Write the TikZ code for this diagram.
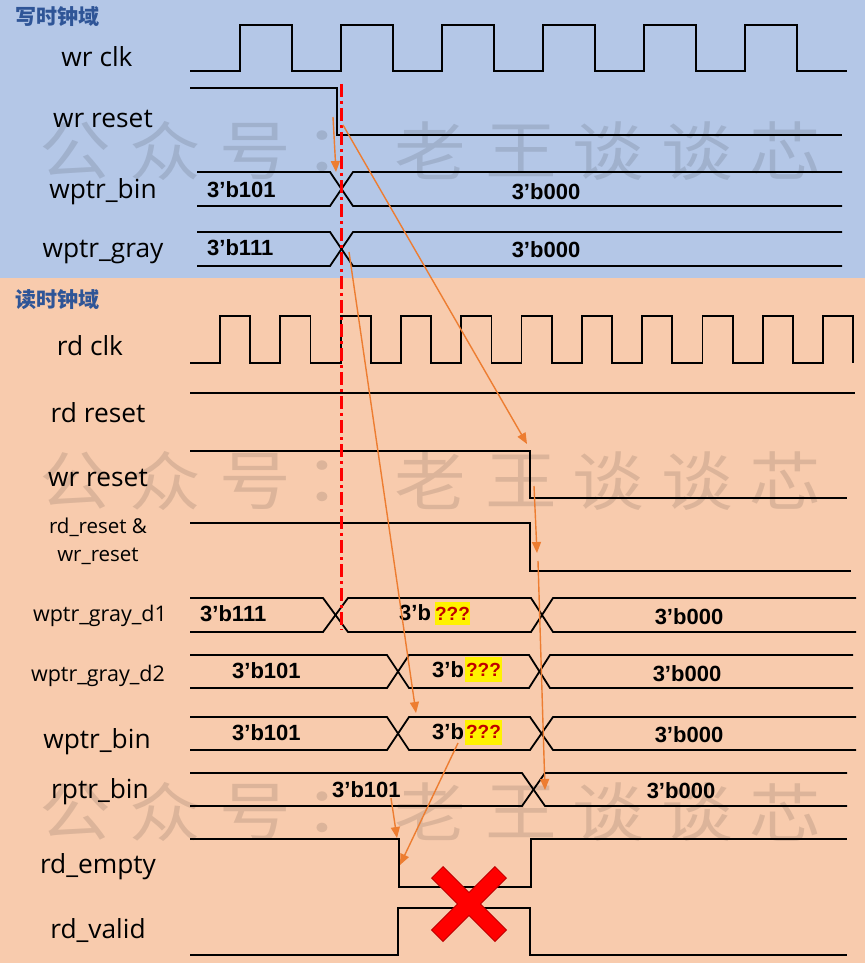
\documentclass[tikz,border=0pt]{standalone}
\usepackage{fontspec}
\setmainfont{Liberation Sans}
\newfontfamily\cjk{Noto Sans CJK SC}
\newfontfamily\labfont{Open Sans}
\usetikzlibrary{arrows.meta}
\definecolor{bgblue}{HTML}{B4C7E7}
\definecolor{bgpeach}{HTML}{F8CBAD}
\definecolor{arrorange}{HTML}{ED7D31}
\definecolor{titleblue}{HTML}{2F5597}
\definecolor{qred}{HTML}{C00000}
\definecolor{xred}{HTML}{FF0000}
\definecolor{xedge}{HTML}{C00000}
\begin{document}
\begin{tikzpicture}[x=1pt,y=-1pt,
  wave/.style={line width=1.8pt, black, line join=miter},
  siglabel/.style={font=\labfont\fontsize{26.3}{26}\selectfont, inner sep=0pt, anchor=base},
  smalllabel/.style={font=\labfont\fontsize{20.5}{20}\selectfont, inner sep=0pt, anchor=base},
  dlabel/.style={font=\labfont\fontsize{21.5}{20}\selectfont, inner sep=0pt, anchor=base},
  val/.style={font=\bfseries\fontsize{22}{22}\selectfont, inner sep=0pt, anchor=base},
  clkdomaintitle/.style={font=\cjk\bfseries\fontsize{21}{21}\selectfont, text=titleblue, inner sep=0pt},
  cause/.style={draw=arrorange, line width=1.4pt, -{Triangle[length=11pt,width=9pt]}},
  wmark/.style={font=\cjk\fontsize{64}{64}\selectfont, text=black, text opacity=0.11, inner sep=0pt, xscale=1.12, transform shape},
  qq/.style={fill=yellow, text=qred, font=\bfseries\fontsize{19}{19}\selectfont, inner sep=0pt, minimum width=37pt, minimum height=25pt},
  refline/.style={xred, line width=3pt, dash pattern=on 13pt off 4pt on 3pt off 4pt},
]
\useasboundingbox (0,0) rectangle (865,963);
% backgrounds
\fill[bgblue] (0,0) rectangle (865,278);
\fill[bgpeach] (0,278) rectangle (865,963);

% watermark rows
\foreach \r/\yy in {1/151, 2/481, 3/812} {
  \foreach \i/\xx/\ch in {1/75/公, 2/165/众, 3/255/号, 4/340/：, 5/430/老, 6/521/王, 7/608/谈, 8/697/谈, 9/785/芯} {
    \node[wmark] (wm\r-\i) at (\xx,\yy) {\ch};
  }
}

% clock-domain titles
\node[clkdomaintitle] (dwr) at (58,16.5) {写时钟域};
\node[clkdomaintitle] (drd) at (58,300) {读时钟域};

% signal labels
\node[siglabel] (l1) at (97,67) {wr clk};
\node[siglabel] (l2) at (103,128) {wr reset};
\node[siglabel] (l3) at (103,198) {wptr\_bin};
\node[siglabel] (l4) at (103,257) {wptr\_gray};
\node[siglabel] (l5) at (90,355) {rd clk};
\node[siglabel] (l6) at (98,422) {rd reset};
\node[siglabel] (l7) at (98,486) {wr reset};
\node[smalllabel] (l8a) at (98,533) {rd\_reset \&};
\node[smalllabel] (l8b) at (98,561) {wr\_reset};
\node[dlabel] (l9) at (100,621) {wptr\_gray\_d1};
\node[dlabel] (l10) at (98,681) {wptr\_gray\_d2};
\node[siglabel] (l11) at (97,748) {wptr\_bin};
\node[siglabel] (l12) at (100,798) {rptr\_bin};
\node[siglabel] (l13) at (98,873) {rd\_empty};
\node[siglabel] (l14) at (98,938) {rd\_valid};

% ---- write domain waveforms
% wr clk
\draw[wave] (190,71) foreach \k in {0,...,5} { -- ({240+101*\k},71) -- ({240+101*\k},25) -- ({292+101*\k},25) -- ({292+101*\k},71) } -- (847,71);
% wr reset
\draw[wave] (190,88) -- (337,88) -- (337,135) -- (842,135);
% wptr_bin (write)
\draw[wave] (197,172) -- (330,172) -- (353,206) -- (842,206);
\draw[wave] (197,206) -- (330,206) -- (353,172) -- (842,172);
% wptr_gray (write)
\draw[wave] (197,232) -- (330,232) -- (353,266) -- (842,266);
\draw[wave] (197,266) -- (330,266) -- (353,232) -- (842,232);

\node[val, anchor=base west] (v1) at (207,197) {3’b101};
\node[val] (v2) at (546,199) {3’b000};
\node[val, anchor=base west] (v3) at (207,255) {3’b111};
\node[val] (v4) at (546,257) {3’b000};

% ---- read domain waveforms
% rd clk
\draw[wave] (190,363) foreach \k in {0,...,10} { -- ({220+60.3*\k},363) -- ({220+60.3*\k},316) -- ({250.2+60.3*\k},316) -- ({250.2+60.3*\k},363) };
% rd reset
\draw[wave] (190,393) -- (855,393);
% wr reset (synchronised)
\draw[wave] (190,451) -- (530,451) -- (530,498) -- (847,498);
% rd_reset & wr_reset
\draw[wave] (190,523) -- (530,523) -- (530,571) -- (851,571);
% wptr_gray_d1
\draw[wave] (190,598) -- (323,598) -- (348,632) -- (531,632) -- (553,598) -- (856,598);
\draw[wave] (190,632) -- (323,632) -- (348,598) -- (531,598) -- (553,632) -- (856,632);
% wptr_gray_d2
\draw[wave] (190,655) -- (387,655) -- (409,688) -- (529,688) -- (550,655) -- (853,655);
\draw[wave] (190,688) -- (387,688) -- (409,655) -- (529,655) -- (550,688) -- (853,688);
% wptr_bin (read)
\draw[wave] (190,717) -- (387,717) -- (409,750) -- (530,750) -- (553,717) -- (856,717);
\draw[wave] (190,750) -- (387,750) -- (409,717) -- (530,717) -- (553,750) -- (856,750);
% rptr_bin
\draw[wave] (190,773) -- (522,773) -- (545,806) -- (847,806);
\draw[wave] (190,806) -- (522,806) -- (545,773) -- (847,773);
% rd_empty
\draw[wave] (190,839) -- (399,839) -- (399,887) -- (531,887) -- (531,839) -- (847,839);
% rd_valid
\draw[wave] (190,955) -- (398,955) -- (398,908) -- (530,908) -- (530,955) -- (847,955);

% values
\node[val, anchor=base west] (v5) at (200,621) {3’b111};
\node[val, anchor=base west] (v6) at (399,620) {3’b};
\node[qq, minimum width=31pt, minimum height=23pt] (q1) at (452.5,613.5) {???};
\node[val] (v7) at (689,624) {3’b000};

\node[val, anchor=base west] (v8) at (232,678) {3’b101};
\node[val, anchor=base west] (v9) at (432,677) {3’b};
\node[qq] (q2) at (483.5,669.5) {???};
\node[val] (v10) at (687,681) {3’b000};

\node[val, anchor=base west] (v11) at (232,740) {3’b101};
\node[val, anchor=base west] (v12) at (432,739) {3’b};
\node[qq] (q3) at (483.5,732) {???};
\node[val] (v13) at (689,742) {3’b000};

\node[val, anchor=base west] (v14) at (332,797) {3’b101};
\node[val] (v15) at (681,798) {3’b000};

% reference line
\coordinate (rlTop) at (341,84);
\coordinate (rlBot) at (341,630);
\draw[refline] (rlTop) -- (rlBot);

% causal arrows
\coordinate (a1s) at (333,117); \coordinate (a1e) at (336,172);
\coordinate (a2s) at (343,125); \coordinate (a2e) at (527,444);
\coordinate (a3s) at (349,252); \coordinate (a3e) at (416,713);
\coordinate (a4s) at (534,486); \coordinate (a4e) at (537,553);
\coordinate (a5s) at (538,561); \coordinate (a5e) at (545,790);
\coordinate (a6s) at (391,798); \coordinate (a6e) at (397,838);
\coordinate (a7s) at (458,743); \coordinate (a7e) at (400,865);
\foreach \n in {1,...,7} { \draw[cause] (a\n s) -- (a\n e); }

% red cross
\coordinate (x1) at (437,872); \coordinate (x2) at (501,936);
\coordinate (x3) at (501,872); \coordinate (x4) at (437,936);
\draw[xedge, line width=17pt] (x1) -- (x2);
\draw[xedge, line width=17pt] (x3) -- (x4);
\draw[xred, line width=15pt, shorten <=1pt, shorten >=1pt] (x1) -- (x2);
\draw[xred, line width=15pt, shorten <=1pt, shorten >=1pt] (x3) -- (x4);
\end{tikzpicture}
\end{document}
